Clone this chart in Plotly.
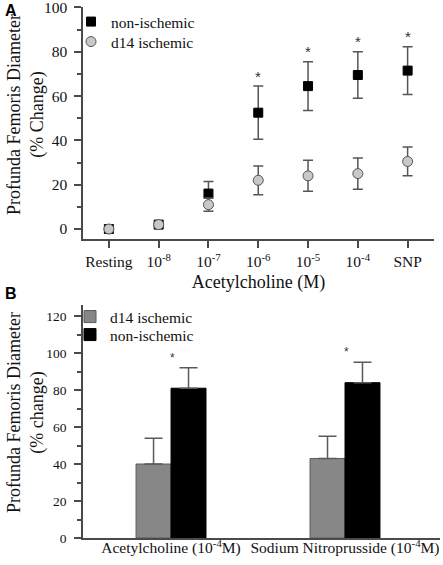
import plotly.graph_objects as go

# ---------------- Panel A data ----------------
categories_a = ["Resting", "10<sup>-8</sup>", "10<sup>-7</sup>", "10<sup>-6</sup>",
                "10<sup>-5</sup>", "10<sup>-4</sup>", "SNP"]
nonisch_mean = [0, 2, 16, 52.5, 64.5, 69.5, 71.5]
nonisch_err = [0, 0, 5.5, 12, 11, 10.5, 10.8]
isch_mean = [0, 2, 11, 22, 24, 25, 30.5]
isch_err = [0, 0, 3, 6.5, 7, 7, 6.5]
sig_a = [False, False, False, True, True, True, True]

# ---------------- Panel B data ----------------
categories_b = ["Acetylcholine (10<sup>-4</sup>M)", "Sodium Nitroprusside (10<sup>-4</sup>M)"]
isch_b = [40, 43]
isch_b_err = [14, 12]
nonisch_b = [81, 84]
nonisch_b_err = [11, 11]
sig_b = [True, True]

SERIF = "Liberation Serif, Times New Roman, serif"
SANS = "Liberation Sans, Arial, sans-serif"
AX = "#4a4a4a"
TXT = "#111111"

W, H = 443, 565
def px_x(p): return p / W
def px_y(p): return 1 - p / H

fig = go.Figure()

fig.add_trace(go.Scatter(
    x=categories_a, y=nonisch_mean, mode="markers", name="non-ischemic",
    marker=dict(symbol="square", size=9, color="black", line=dict(color="black", width=1)),
    error_y=dict(type="data", array=nonisch_err, color="#555", thickness=1.5, width=5),
    xaxis="x", yaxis="y", legend="legend",
))
fig.add_trace(go.Scatter(
    x=categories_a, y=isch_mean, mode="markers", name="d14 ischemic",
    marker=dict(symbol="circle", size=10, color="#c8c8c8", line=dict(color="#555", width=1)),
    error_y=dict(type="data", array=isch_err, color="#555", thickness=1.5, width=5),
    xaxis="x", yaxis="y", legend="legend2",
))

fig.add_trace(go.Bar(
    x=categories_b, y=isch_b, name="d14 ischemic",
    marker=dict(color="#878787", line=dict(color="#5a5a5a", width=1)),
    error_y=dict(type="data", symmetric=False, array=isch_b_err, arrayminus=[0] * len(isch_b),
                 color="#5a5a5a", thickness=1.5, width=9),
    xaxis="x2", yaxis="y2", legend="legend3",
))
fig.add_trace(go.Bar(
    x=categories_b, y=nonisch_b, name="non-ischemic",
    marker=dict(color="black", line=dict(color="black", width=1)),
    error_y=dict(type="data", symmetric=False, array=nonisch_b_err, arrayminus=[0] * len(nonisch_b),
                 color="#5a5a5a", thickness=1.5, width=9),
    xaxis="x2", yaxis="y2", legend="legend4",
))

annotations = []
for c, m, e, s in zip(categories_a, nonisch_mean, nonisch_err, sig_a):
    if s:
        annotations.append(dict(x=c, y=m + e, xref="x", yref="y", text="*", showarrow=False,
                                yshift=10, font=dict(family=SANS, size=15, color="#333333")))
for c, m, e, s in zip(categories_b, nonisch_b, nonisch_b_err, sig_b):
    if s:
        annotations.append(dict(x=c, y=m + e, xref="x2", yref="y2", xshift=1, text="*", showarrow=False,
                                yshift=10, font=dict(family=SANS, size=12, color="#333333")))

ytitle_font = dict(family=SERIF, size=18, color=TXT)
annotations += [
    dict(x=px_x(26), y=px_y(115), xref="paper", yref="paper", textangle=-90,
         text="Profunda Femoris Diameter<br>(% Change)", showarrow=False,
         xanchor="center", yanchor="middle", font=ytitle_font),
    dict(x=px_x(26), y=px_y(413), xref="paper", yref="paper", textangle=-90,
         text="Profunda Femoris Diameter<br>(% change)", showarrow=False,
         xanchor="center", yanchor="middle", font=ytitle_font),
    dict(x=px_x(11), y=px_y(10), xref="paper", yref="paper", text="<b>A</b>", showarrow=False,
         xanchor="center", yanchor="middle", font=dict(family=SANS, size=16, color="black")),
    dict(x=px_x(11), y=px_y(293), xref="paper", yref="paper", text="<b>B</b>", showarrow=False,
         xanchor="center", yanchor="middle", font=dict(family=SANS, size=16, color="black")),
]

axis_common = dict(showline=True, linecolor=AX, linewidth=1.5, showgrid=False, zeroline=False,
                   tickcolor=AX, tickwidth=1.5, automargin=False, ticklabeloverflow="allow")

def legend_at(xp, yp):
    return dict(x=px_x(xp), y=px_y(yp), xanchor="left", yanchor="middle",
                bgcolor="rgba(0,0,0,0)", font=dict(family=SERIF, size=15.5, color=TXT),
                itemwidth=30, tracegroupgap=0)

fig.update_layout(
    template="none",
    width=W, height=H,
    margin=dict(l=0, r=0, t=0, b=0, autoexpand=False),
    paper_bgcolor="white", plot_bgcolor="white",
    font=dict(family=SERIF, color=TXT),
    barmode="group", bargap=0.598, bargroupgap=0,
    xaxis=dict(domain=[px_x(83), px_x(434)], anchor="y", type="category",
               range=[-0.52, 6.53], ticks="outside", ticklen=7,
               tickfont=dict(family=SERIF, size=15.5, color=TXT), ticklabelstandoff=1,
               title=dict(text="Acetylcholine (M)", font=dict(family=SERIF, size=18, color=TXT), standoff=6),
               **axis_common),
    yaxis=dict(domain=[px_y(239), px_y(7)], anchor="x", range=[-4.5, 100.2],
               tick0=0, dtick=20, ticks="outside", ticklen=7,
               minor=dict(dtick=10, ticklen=4, ticks="outside", tickcolor=AX, tickwidth=1.5),
               tickfont=dict(family=SERIF, size=15.5, color=TXT), ticklabelstandoff=4,
               **axis_common),
    xaxis2=dict(domain=[px_x(83), px_x(440)], anchor="y2", type="category",
                range=[-0.506, 1.546], ticks="",
                tickfont=dict(family=SERIF, size=15.5, color=TXT), ticklabelstandoff=-5,
                **axis_common),
    yaxis2=dict(domain=[px_y(538), px_y(305)], anchor="x2", range=[0, 126],
                tick0=0, dtick=20, ticks="outside", ticklen=7,
                minor=dict(dtick=10, ticklen=4, ticks="outside", tickcolor=AX, tickwidth=1.5),
                tickfont=dict(family=SERIF, size=13.5, color=TXT), ticklabelstandoff=5,
                **axis_common),
    legend=legend_at(71, 22),
    legend2=legend_at(71, 42),
    legend3=legend_at(70, 317),
    legend4=legend_at(70, 335),
    annotations=annotations,
    showlegend=True,
)

fig.write_html("out.html", config={"displayModeBar": False},
               post_script="document.body.style.margin='0';document.body.style.padding='0';")
